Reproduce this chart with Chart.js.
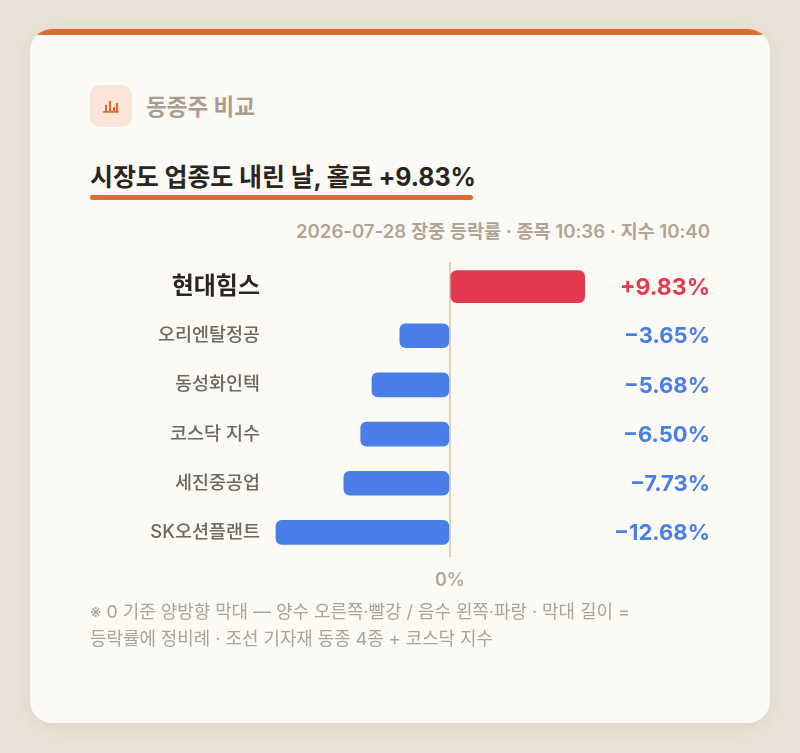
<!DOCTYPE html>
<html lang="ko">
<head>
<meta charset="utf-8">
<script src="https://cdn.jsdelivr.net/npm/chart.js@4.4.1/dist/chart.umd.min.js"></script>
<style>
  html,body{margin:0;padding:0;}
  body{width:800px;height:753px;background:#ebe3d7;position:relative;overflow:hidden;
       font-family:"Inter","Noto Sans CJK KR","Noto Sans",sans-serif;}
  .card{position:absolute;left:30px;top:29px;width:740px;height:694px;background:#fcfaf5;
        border-radius:22px;overflow:hidden;box-shadow:0 4px 18px rgba(120,95,60,0.12);}
  .card:before{content:"";position:absolute;left:0;top:0;right:0;height:6px;background:#df6b34;}
  .icon{position:absolute;left:60px;top:56px;width:42px;height:42px;border-radius:10px;background:#fae4d8;}
  .kicker{position:absolute;left:116px;top:60px;font-size:22.5px;font-weight:700;color:#a99d8d;}
  .title{position:absolute;left:60px;top:128px;font-size:25px;font-weight:700;color:#2a2521;letter-spacing:-0.1px;}
  .uline{position:absolute;left:60px;top:166px;width:383px;height:5px;border-radius:3px;background:#df6b34;}
  .sub{position:absolute;right:60px;top:187px;font-size:18.6px;font-weight:600;color:#b0a494;}
  .chartbox{position:absolute;left:60px;top:226px;width:630px;height:345px;}
  .foot{position:absolute;left:60px;top:569px;font-size:17.9px;color:#aea392;line-height:27px;white-space:nowrap;}
</style>
</head>
<body>
<div class="card">
  <div class="icon">
    <svg width="42" height="42" viewBox="0 0 42 42">
      <g fill="#df6b34">
        <rect x="13" y="26" width="16" height="1.8" rx="0.9"/>
        <rect x="15" y="20" width="2" height="6"/>
        <rect x="19" y="16" width="2" height="10"/>
        <rect x="23" y="22" width="2" height="4"/>
        <rect x="26" y="18" width="2" height="8"/>
      </g>
    </svg>
  </div>
  <div class="kicker">동종주 비교</div>
  <div class="title">시장도 업종도 내린 날, 홀로 +9.83%</div>
  <div class="uline"></div>
  <div class="sub">2026-07-28 장중 등락률 · 종목 10:36 · 지수 10:40</div>
  <div class="chartbox"><canvas id="c"></canvas></div>
  <div class="foot">※ 0 기준 양방향 막대 — 양수 오른쪽·빨강 / 음수 왼쪽·파랑 · 막대 길이 =<br>등락률에 정비례 · 조선 기자재 동종 4종 + 코스닥 지수</div>
</div>
<script>
const categories = ["현대힘스", "오리엔탈정공", "동성화인텍", "코스닥 지수", "세진중공업", "SK오션플랜트"];
const changes = [9.83, -3.65, -5.68, -6.50, -7.73, -12.68];
const valueLabels = ["+9.83%", "−3.65%", "−5.68%", "−6.50%", "−7.73%", "−12.68%"];
const zeroTickLabel = "0%";

const RED = "#e33a4f", BLUE = "#4a7ee8";
const FONT = '"Inter","Noto Sans CJK KR",sans-serif';

const highlightData = changes.map((v, i) => i === 0 ? v : null);
const otherData = changes.map((v, i) => i === 0 ? null : v);

const valueLabelPlugin = {
  id: "valueLabels",
  afterDatasetsDraw(chart) {
    const ctx = chart.ctx;
    const ys = chart.scales.y;
    ctx.save();
    ctx.textAlign = "right";
    ctx.textBaseline = "middle";
    changes.forEach((v, i) => {
      ctx.font = (i === 0 ? "700 23px " : "700 22px ") + FONT;
      ctx.fillStyle = v >= 0 ? RED : BLUE;
      ctx.fillText(valueLabels[i], chart.width - 10, ys.getPixelForValue(i) + 1);
    });
    ctx.restore();
  }
};

new Chart(document.getElementById("c"), {
  type: "bar",
  data: {
    labels: categories,
    datasets: [
      { data: highlightData, backgroundColor: RED, barThickness: 32, borderRadius: 6, borderSkipped: false, grouped: false },
      { data: otherData, backgroundColor: BLUE, barThickness: 24, borderRadius: 6, borderSkipped: false, grouped: false }
    ]
  },
  options: {
    indexAxis: "y",
    responsive: true,
    maintainAspectRatio: false,
    animation: false,
    layout: { padding: { top: 7, right: 133, left: 0, bottom: 0 } },
    plugins: { legend: { display: false }, tooltip: { enabled: false } },
    scales: {
      x: {
        min: -12.75, max: 10,
        afterBuildTicks: s => { s.ticks = [{ value: 0 }]; },
        afterFit: s => { s.height = 43; s.paddingLeft = 0; s.paddingRight = 0; },
        grid: { color: "#ddd0be", lineWidth: 2, drawTicks: false },
        border: { display: false },
        ticks: { padding: 13, color: "#b3a897", font: { family: FONT, size: 18, weight: "600" }, callback: v => v === 0 ? zeroTickLabel : "" }
      },
      y: {
        afterFit: s => { s.width = 185; s.paddingTop = 0; s.paddingBottom = 0; },
        grid: { display: false, drawTicks: false },
        border: { display: false },
        ticks: {
          padding: 15,
          color: c => c.index === 0 ? "#2a2521" : "#6f665c",
          font: c => c.index === 0 ? { family: FONT, size: 24, weight: "700" } : { family: FONT, size: 18.5, weight: "500" }
        }
      }
    }
  },
  plugins: [valueLabelPlugin]
});
</script>
</body>
</html>
